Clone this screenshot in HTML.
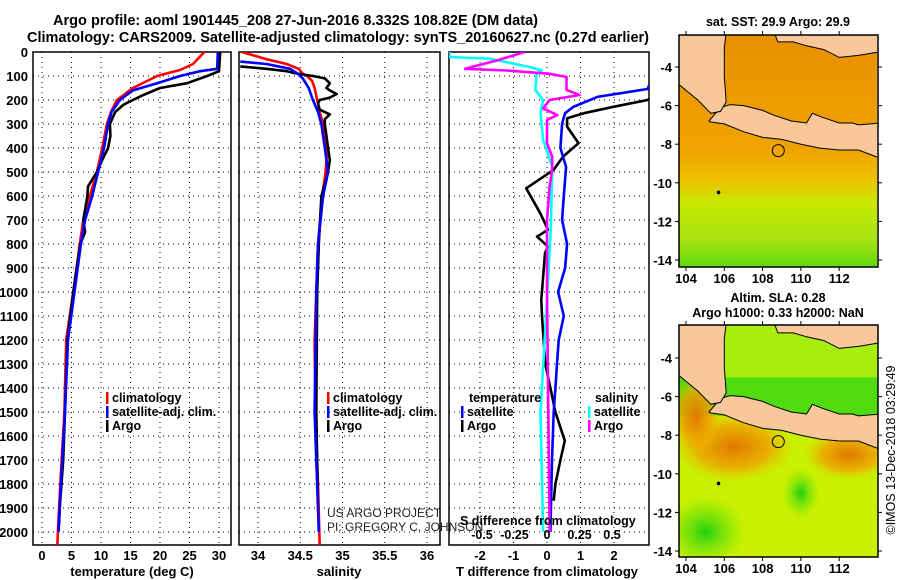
<!DOCTYPE html>
<html><head><meta charset="utf-8"><style>
html,body{margin:0;padding:0;background:#fff;}
svg{display:block;font-family:"Liberation Sans",sans-serif;}
.b{font-weight:bold;font-size:14.5px;}
</style></head><body>
<svg id="c" width="900" height="580" viewBox="0 0 900 580" xmlns="http://www.w3.org/2000/svg">
<defs>
<clipPath id="cp1"><rect x="33" y="52" width="198" height="493"/></clipPath>
<clipPath id="cp2"><rect x="239" y="52" width="201" height="493"/></clipPath>
<clipPath id="cp3"><rect x="449" y="52" width="200" height="493"/></clipPath>
<clipPath id="cm1"><rect x="679" y="35" width="198" height="232"/></clipPath>
<clipPath id="cm2"><rect x="679" y="325" width="199" height="232"/></clipPath>
<linearGradient id="sst" x1="0" y1="0" x2="0" y2="1">
<stop offset="0" stop-color="#e89000"/><stop offset="0.5" stop-color="#f0a400"/><stop offset="0.62" stop-color="#f0c000"/><stop offset="0.72" stop-color="#c8e800"/><stop offset="0.88" stop-color="#a8e410"/><stop offset="1" stop-color="#60d810"/>
</linearGradient>
<radialGradient id="or1"><stop offset="0" stop-color="#e07800"/><stop offset="0.6" stop-color="#f0a000" stop-opacity="0.8"/><stop offset="1" stop-color="#f0c000" stop-opacity="0"/></radialGradient>
<radialGradient id="gr1"><stop offset="0" stop-color="#20d010"/><stop offset="1" stop-color="#60e010" stop-opacity="0"/></radialGradient>
</defs>
<text class="b" x="53" y="25" textLength="485" lengthAdjust="spacingAndGlyphs">Argo profile: aoml 1901445_208 27-Jun-2016 8.332S 108.82E (DM data)</text>
<text class="b" x="27" y="42" textLength="622" lengthAdjust="spacingAndGlyphs">Climatology: CARS2009. Satellite-adjusted climatology: synTS_20160627.nc (0.27d earlier)</text>
<g id="plots"></g>
<g id="maps"></g>
</svg>
<script>
// depth axis
const depthTicks=[0,100,200,300,400,500,600,700,800,900,1000,1100,1200,1300,1400,1500,1600,1700,1800,1900,2000];
const tempTicks=[0,5,10,15,20,25,30];
const salTicks=[34,34.5,35,35.5,36];
const tdiffTicks=[-2,-1,0,1,2];
const sdiffTicks=[-0.5,-0.25,0,0.25,0.5];
// temperature profiles
const tClimDepth=[0,50,75,90,100,150,200,250,300,400,500,600,700,800,1000,1200,1500,1800,2000,2060];
const tClim=[27.5,25.6,23.4,21,19.5,15.4,12.7,11.7,11,10.2,9.3,8.1,7,6.4,5.3,4.1,3.8,3.1,2.7,2.6];
const tSatDepth=[0,70,80,100,130,160,200,250,300,400,500,600,700,800,1000,1200,1500,1800,2000];
const tSat=[29.8,29.7,26.8,23.4,19.5,15.4,13.2,11.8,11.2,10.5,9.5,8.5,7.3,6.6,5.5,4.4,3.9,3.2,2.8];
const tArgoDepth=[0,80,100,130,150,180,200,220,250,300,350,400,450,500,560,600,700,750,800,1000,1200,1500,1700,1800,1900,1970];
const tArgo=[30.2,30,28,24.6,20,17.1,15.4,13.8,12.4,11.5,11.6,11.2,10.2,9.3,7.8,7.7,7.0,7.3,6.5,5.3,4.3,3.9,3.6,3.3,3.0,2.9];
// salinity profiles
const sClimDepth=[0,30,50,70,90,100,120,150,200,250,300,400,500,600,800,1000,1200,1500,1800,2060];
const sClim=[33.81,34.1,34.34,34.48,34.53,34.58,34.64,34.67,34.7,34.73,34.77,34.82,34.8,34.76,34.71,34.69,34.67,34.68,34.71,34.73];
const sSatDepth=[40,50,70,90,110,150,200,250,300,400,500,600,800,1000,1500,2000];
const sSat=[33.79,34.1,34.38,34.47,34.53,34.6,34.65,34.71,34.75,34.79,34.83,34.77,34.71,34.69,34.67,34.72];
const sArgoDepth=[60,70,80,90,100,110,130,150,160,175,190,200,215,240,260,280,300,400,450,500,600,800,1000,1500,1900];
const sArgo=[33.79,34.1,34.34,34.46,34.65,34.79,34.85,34.81,34.85,34.93,34.85,34.73,34.71,34.73,34.85,34.79,34.79,34.83,34.85,34.83,34.75,34.72,34.70,34.69,34.71];
// differences
const dtSatDepth=[0,154,187,229,255,283,300,400,479,600,700,800,900,1000,1100,1200,1300,1400,1500,1700,2000];
const dtSat=[3.5,3.0,1.5,0.78,0.54,0.48,0.45,0.4,0.57,0.5,0.45,0.6,0.54,0.33,0.5,0.35,0.3,0.25,0.2,0.15,0.1];
const dtArgoDepth=[150,200,228,255,276,311,380,436,492,568,672,741,769,811,838,1033,1100,1200,1300,1400,1500,1620,1700,1800,1870];
const dtArgo=[3.5,3.0,2.0,1.1,0.6,0.6,0.94,0.48,0.19,-0.62,-0.2,0.03,-0.3,0.03,-0.06,-0.17,-0.15,-0.1,-0.05,0.1,0.25,0.53,0.4,0.25,0.2];
const dsArgoDepth=[0,34,70,77,91,104,158,179,200,235,263,283,380,436,490,560,700,1000,1500,2000];
const dsArgo=[-0.17,-0.38,-0.63,-0.31,0.02,0.15,0.15,0.25,0.02,-0.03,0.08,0.0,0.0,0.04,0.04,0.02,0.0,0.0,0.01,0.02];
const dsSatDepth=[0,21,28,63,77,91,158,200,255,366,478,727,1033,1500,2000];
const dsSat=[-0.75,-0.75,-0.44,-0.13,-0.04,-0.08,-0.09,-0.03,-0.05,-0.03,0.04,0.03,0.0,-0.05,-0.03];
// map ticks
const lonTicks=[104,106,108,110,112];
const latTicks=[-4,-6,-8,-10,-12,-14];

const NS='http://www.w3.org/2000/svg';
function mk(tag,attrs,parent,txt){const e=document.createElementNS(NS,tag);for(const k in attrs)e.setAttribute(k,attrs[k]);if(txt!==undefined)e.textContent=txt;parent.appendChild(e);return e;}
const y=d=>52+d*0.24;
const xT=t=>42+t*5.9;
const xS=s=>258+(s-34)*84.5;
const xD=t=>547+t*33.5;
const xSD=s=>547+s*130;
const G=document.getElementById('plots');

function panel(name,x0,x1,vticks,xf,labels,labFmt,title,cx){
  const g=mk('g',{},G);
  
  
  for(const d of depthTicks){const l=mk('line',{x1:x0,x2:x1,y1:y(d),y2:y(d),stroke:'#000','stroke-width':1,'stroke-dasharray':'1,4'},g);
    
    }
  for(const v of vticks){const l=mk('line',{x1:xf(v),x2:xf(v),y1:52,y2:545,stroke:'#000','stroke-width':1,'stroke-dasharray':'1,4'},g);
    
    
    if(labels){const t=mk('text',{x:xf(v),y:560,'text-anchor':'middle','font-size':'13px','font-weight':'bold'},g,labFmt(v));
    
    }}
  const r=mk('rect',{x:x0,y:52,width:x1-x0,height:493,fill:'none',stroke:'#000','stroke-width':1.5},g);
  
  
  const tt=mk('text',{x:cx,y:576,'text-anchor':'middle','font-size':'13px','font-weight':'bold'},g,title);
  
  
  return g;
}
function line(g,ds,vs,xf,col,clip,name){
  const pts=ds.map((d,i)=>xf(vs[i]).toFixed(1)+','+y(d).toFixed(1)).join(' ');
  const p=mk('polyline',{points:pts,fill:'none',stroke:col,'stroke-width':2.6,'stroke-linejoin':'round','clip-path':'url(#'+clip+')'},g);
  
  
}
function legend(g,x,yy,col,txt,name){
  const r=mk('rect',{x:x,y:yy-10,width:2.5,height:12,fill:col},g);
  
  
  const t=mk('text',{x:x+6,y:yy,'font-size':'12.5px','font-weight':'bold'},g,txt);
  
  
}
for(const d of depthTicks){const t=mk('text',{x:28,y:y(d)+5,'text-anchor':'end','font-size':'13px','font-weight':'bold'},G,String(d));
  
  }

const g1=panel('temperature-panel',33,231,tempTicks,xT,true,v=>String(v),'temperature (deg C)',132);
line(g1,tClimDepth,tClim,xT,'#f00','cp1','temp-climatology-line');
line(g1,tArgoDepth,tArgo,xT,'#000','cp1','temp-argo-line');
line(g1,tSatDepth,tSat,xT,'#00f','cp1','temp-satellite-line');
legend(g1,106,402,'#f00','climatology','legend-climatology');
legend(g1,106,416,'#00f','satellite-adj. clim.','legend-satellite');
legend(g1,106,430,'#000','Argo','legend-argo');

const g2=panel('salinity-panel',239,440,salTicks,xS,true,v=>String(v),'salinity',339);
line(g2,sClimDepth,sClim,xS,'#f00','cp2','sal-climatology-line');
line(g2,sArgoDepth,sArgo,xS,'#000','cp2','sal-argo-line');
line(g2,sSatDepth,sSat,xS,'#00f','cp2','sal-satellite-line');
legend(g2,327,402,'#f00','climatology','legend-climatology-sal');
legend(g2,327,416,'#00f','satellite-adj. clim.','legend-satellite-sal');
legend(g2,327,430,'#000','Argo','legend-argo-sal');
let t1=mk('text',{x:327,y:517,'font-size':'12px','fill':'#222'},g2,'US ARGO PROJECT');


let t2=mk('text',{x:327,y:531,'font-size':'12px','fill':'#222'},g2,'PI: GREGORY C. JOHNSON');



const g3=panel('difference-panel',449,649,tdiffTicks,xD,true,v=>String(v),'T difference from climatology',547);
line(g3,dtArgoDepth,dtArgo,xD,'#000','cp3','tdiff-argo-line');
line(g3,dtSatDepth,dtSat,xD,'#00f','cp3','tdiff-satellite-line');
line(g3,dsSatDepth,dsSat,xSD,'#0ff','cp3','sdiff-satellite-line');
line(g3,dsArgoDepth,dsArgo,xSD,'#f0f','cp3','sdiff-argo-line');
let th=mk('text',{x:469,y:402,'font-size':'12.5px','font-weight':'bold'},g3,'temperature');


let sh=mk('text',{x:595,y:402,'font-size':'12.5px','font-weight':'bold'},g3,'salinity');


legend(g3,461,416,'#00f','satellite','legend-tdiff-satellite');
legend(g3,461,430,'#000','Argo','legend-tdiff-argo');
legend(g3,588,416,'#0ff','satellite','legend-sdiff-satellite');
legend(g3,588,430,'#f0f','Argo','legend-sdiff-argo');
let stt=mk('text',{x:460,y:525,'font-size':'12.5px','font-weight':'bold'},g3,'S difference from climatology');


for(const v of sdiffTicks){const t=mk('text',{x:xSD(v),y:539,'text-anchor':'middle','font-size':'12.5px','font-weight':'bold'},g3,String(v));
  
  }

const M=document.getElementById('maps');
const java=[[105.2,-6.8],[105.8,-6.1],[106.3,-5.95],[107,-6.0],[108,-6.25],[108.6,-6.5],[109.5,-6.8],[110.3,-6.9],[110.6,-6.4],[111.1,-6.6],[112,-6.9],[112.7,-6.9],[113,-7.0],[114.2,-6.9],[114.2,-8.75],[113,-8.3],[112,-8.3],[111,-8.2],[110,-8.0],[109,-7.75],[108,-7.65],[107,-7.35],[106,-6.95],[105.3,-6.85]];
const sumatra=[[103.5,-2.2],[106.1,-2.2],[106.0,-3.0],[106.0,-4.5],[106.1,-5.8],[105.8,-6.3],[105.3,-6.4],[104.6,-5.7],[103.5,-4.8]];
const borneo=[[108.6,-2.2],[114.2,-2.2],[114.2,-3.2],[113,-3.4],[112,-3.5],[111.2,-3.1],[110.3,-2.9],[109.6,-2.7],[108.8,-2.7]];
function drawMap(name,top,bottom,latY0,isSST,clip,title1,title2){
  const g=mk('g',{},M);
  
  
  const lx=lon=>686+(lon-104)*19.15;
  const ly=lat=>latY0+(-4-lat)*19.3;
  const inner=mk('g',{'clip-path':'url(#'+clip+')'},g);
  if(isSST){
    mk('rect',{x:679,y:top,width:199,height:bottom-top,fill:'url(#sst)'},inner);
  }else{
    mk('rect',{x:679,y:top,width:199,height:bottom-top,fill:'#c8f000'},inner);
    mk('rect',{x:679,y:ly(-5),width:199,height:ly(-7)-ly(-5),fill:'#50dc10'},inner);
    mk('rect',{x:679,y:ly(-2.3),width:199,height:ly(-5)-ly(-2.3),fill:'#a8ec10'},inner);
    mk('ellipse',{cx:lx(106.5),cy:ly(-8.6),rx:60,ry:35,fill:'url(#or1)'},inner);
    mk('ellipse',{cx:lx(104.5),cy:ly(-7),rx:25,ry:40,fill:'url(#or1)'},inner);
    mk('ellipse',{cx:lx(112.5),cy:ly(-9),rx:45,ry:25,fill:'url(#or1)'},inner);
    mk('ellipse',{cx:lx(105),cy:ly(-13),rx:40,ry:35,fill:'url(#gr1)'},inner);
    mk('ellipse',{cx:lx(110),cy:ly(-11),rx:18,ry:25,fill:'url(#gr1)'},inner);
  }
  for(const [poly,nm] of [[java,'java-land'],[sumatra,'sumatra-land'],[borneo,'borneo-land']]){
    const p=mk('polygon',{points:poly.map(q=>lx(q[0]).toFixed(1)+','+ly(q[1]).toFixed(1)).join(' '),fill:'#f9c89a',stroke:'#000','stroke-width':1},inner);
    
    
  }
  const c=mk('circle',{cx:lx(108.82),cy:ly(-8.332),r:6,fill:'none',stroke:'#000','stroke-width':1},inner);
  
  
  mk('circle',{cx:lx(105.7),cy:ly(-10.5),r:1.8,fill:'#000'},inner);
  const r=mk('rect',{x:679,y:top,width:199,height:bottom-top,fill:'none',stroke:'#000','stroke-width':1.5},g);
  
  
  for(const lon of lonTicks){
    mk('line',{x1:lx(lon),x2:lx(lon),y1:top,y2:top-4,stroke:'#000'},g);
    mk('line',{x1:lx(lon),x2:lx(lon),y1:bottom,y2:bottom+4,stroke:'#000'},g);
    const t=mk('text',{x:lx(lon),y:bottom+16,'text-anchor':'middle','font-size':'13px','font-weight':'bold'},g,String(lon));
    
    
  }
  for(const lat of latTicks){
    mk('line',{x1:679,x2:675,y1:ly(lat),y2:ly(lat),stroke:'#000'},g);
    mk('line',{x1:878,x2:882,y1:ly(lat),y2:ly(lat),stroke:'#000'},g);
    const t=mk('text',{x:672,y:ly(lat)+5,'text-anchor':'end','font-size':'13px','font-weight':'bold'},g,String(lat));
    
    
  }
  const a=mk('text',{x:778,y:isSST?26:302,'text-anchor':'middle','font-size':'12.5px','font-weight':'bold'},g,title1);
  
  
  if(title2){const b=mk('text',{x:778,y:317,'text-anchor':'middle','font-size':'12.5px','font-weight':'bold'},g,title2);
    
    }
}
drawMap('sst-map',35,267,67,true,'cm1','sat. SST: 29.9 Argo: 29.9');
drawMap('sla-map',325,557,358,false,'cm2','Altim. SLA: 0.28','Argo h1000: 0.33 h2000: NaN');
const cr=mk('text',{x:0,y:0,'font-size':'12.5px','text-anchor':'middle',transform:'translate(895,450) rotate(-90)'},M,'©IMOS 13-Dec-2018 03:29:49');


</script>
</body></html>
